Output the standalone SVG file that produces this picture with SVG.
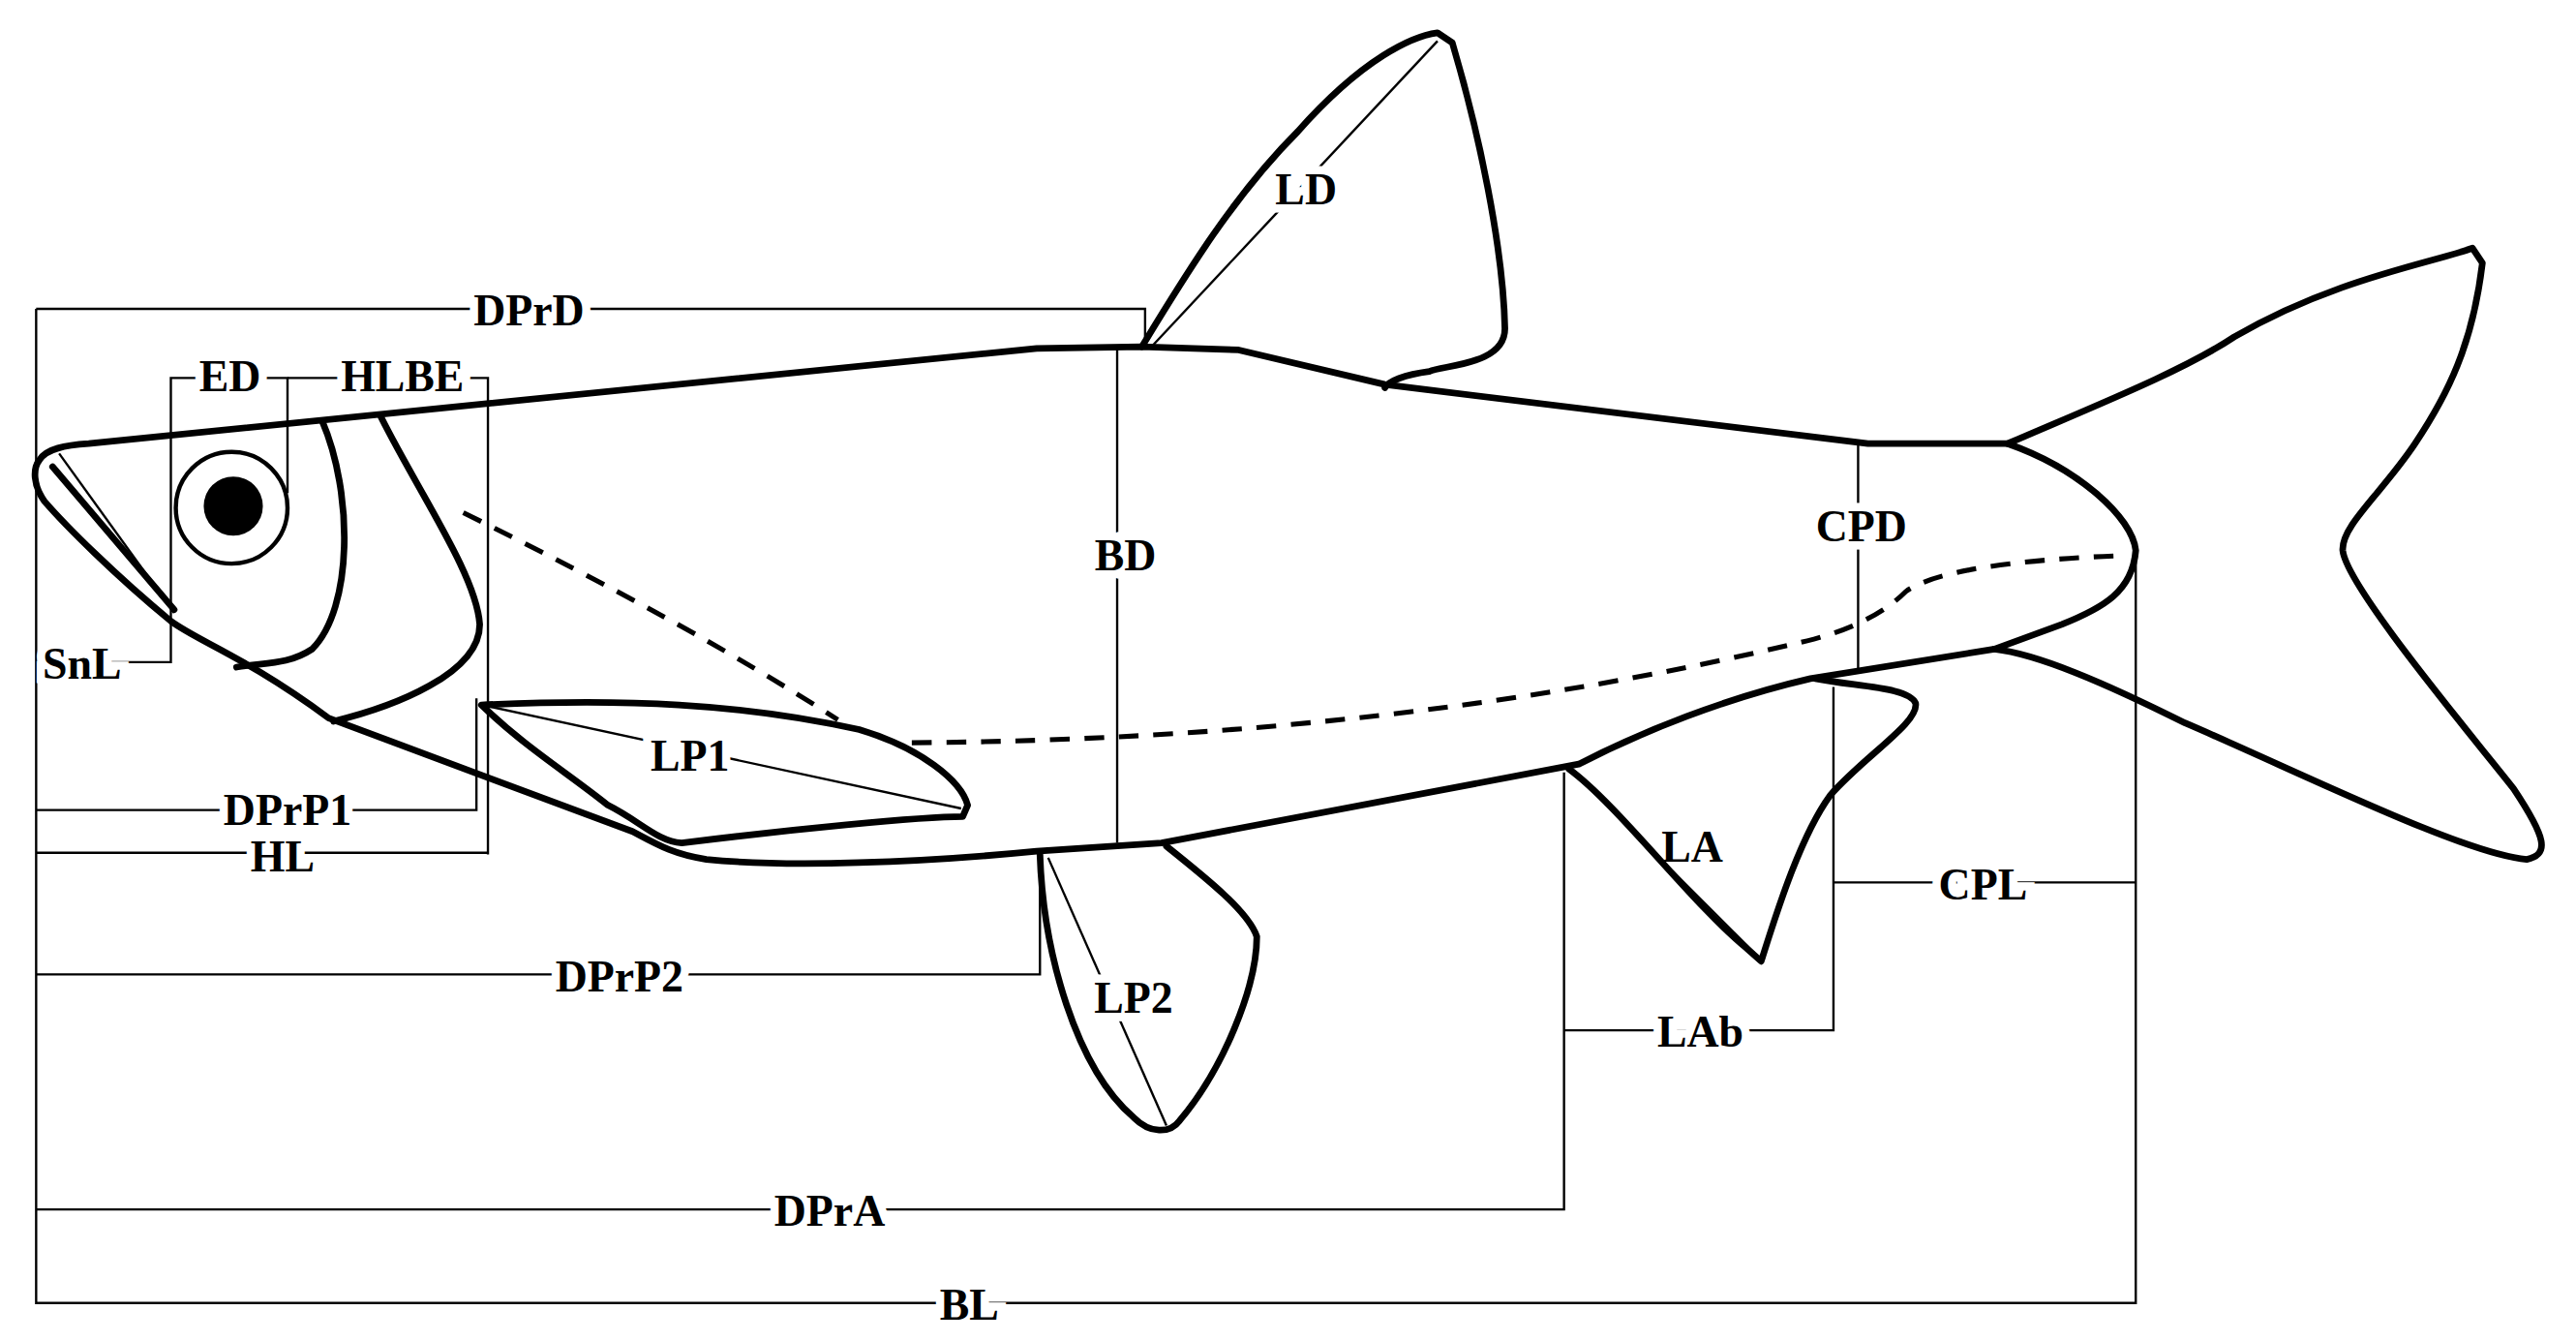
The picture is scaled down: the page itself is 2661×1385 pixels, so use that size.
<svg xmlns="http://www.w3.org/2000/svg" width="2661" height="1385" viewBox="0 0 2661 1385">
<style>
.f{fill:none;stroke:#000;stroke-width:4;stroke-linejoin:round;stroke-linecap:round}
.d{fill:none;stroke:#000;stroke-width:1.4}
.dash{fill:none;stroke:#000;stroke-width:3;stroke-dasharray:12 9}
text{font-family:"Liberation Serif","Times New Roman",serif;font-weight:bold;font-size:27px;text-anchor:middle;fill:#000;stroke:#fff;stroke-width:10;paint-order:stroke;dominant-baseline:central}
</style>
<rect width="2661" height="1385" fill="#fff"/>
<g transform="scale(1.6971)">
<g id="connectors">
<path class="d" d="M22,188 V793 H1300 V333"/>
<path class="d" d="M22,188 H697 V212"/>
<path class="d" d="M22,403 H104 V230 H175 V300"/>
<path class="d" d="M175,230 H297 V520"/>
<path class="d" d="M22,493 H290 V425"/>
<path class="d" d="M22,519 H297"/>
<path class="d" d="M22,593 H633 V520"/>
<path class="d" d="M22,736 H952 V470"/>
<path class="d" d="M952,627 H1116 V418"/>
<path class="d" d="M1116,537 H1300"/>
<path class="d" d="M680,212 V513"/>
<path class="d" d="M1131,270 V410"/>
<path class="d" d="M700,212 L875,25"/>
<path class="d" d="M298,430 L585,492"/>
<path class="d" d="M638,522 L710,685"/>
<path class="d" d="M960,472 L1068,580"/>
</g>
<g id="labels">
<text x="322" y="189">DPrD</text>
<text x="140" y="229">ED</text>
<text x="245" y="229">HLBE</text>
<text x="50" y="404">SnL</text>
<text x="175" y="493">DPrP1</text>
<text x="172" y="521">HL</text>
<text x="377" y="594">DPrP2</text>
<text x="505" y="737">DPrA</text>
<text x="590" y="794">BL</text>
<text x="685" y="338">BD</text>
<text x="1133" y="320">CPD</text>
<text x="1207" y="538">CPL</text>
<text x="1035" y="628">LAb</text>
<text x="795" y="115">LD</text>
<text x="420" y="460">LP1</text>
<text x="690" y="607">LP2</text>
<text x="1030" y="515">LA</text>
</g>
<g id="fish">
<path class="f" d="M54,270 L631,212 L695,211 L754,213 L843,234 L1137,270 L1222,270 C1265,285 1298,315 1300,335 C1298,360 1280,370 1255,380 L1214,395 L1102,413 C1050,425 1000,445 961,465 L707,513 L631,518 C560,525 480,528 430,523 C410,520 400,514 385,506 L200,437 C150,400 120,390 104,378 C70,350 40,320 27,305 C20,295 20,285 24,280 C28,273 40,271 54,270 Z"/>
<path class="f" d="M32,284 L106,371"/>
<path class="d" d="M36,276 L106,373"/>
<circle class="f" cx="141" cy="309" r="34" style="stroke-width:2.6"/>
<circle cx="142" cy="308" r="18" fill="#000"/>
<path class="f" d="M196,256 C215,300 215,370 190,395 C175,405 160,403 144,406"/>
<path class="f" d="M232,254 C255,300 290,350 292,380 C292,410 240,430 203,439"/>
<path class="dash" d="M282,312 Q420,380 510,438"/>
<path class="dash" d="M555,452 Q850,450 1100,390 Q1140,380 1160,360 Q1185,342 1295,338"/>
</g>
<g id="fins">
<path class="f" d="M293,429 C380,425 450,428 523,444 C560,455 585,475 589,490 L586,497 C560,497 480,505 415,513 C400,512 390,500 370,490 C345,470 320,455 293,429 Z"/>
<path class="f" d="M695,211 C720,170 750,120 790,80 C830,35 860,22 875,20 L884,26 C900,80 915,150 916,200 C916,222 880,222 870,226 C855,228 845,232 843,236"/>
<path class="f" d="M1222,270 C1280,245 1330,225 1360,205 C1420,170 1480,160 1505,151 L1511,160 C1505,210 1490,240 1470,270 C1450,300 1425,320 1426,335 C1428,355 1490,430 1530,480 C1550,510 1552,520 1538,523 C1500,520 1400,470 1330,440 C1280,415 1240,398 1214,395"/>
<path class="f" d="M633,520 C635,580 655,650 690,680 C700,690 712,690 718,682 C745,650 765,600 765,570 C760,555 735,535 710,515"/>
<path class="f" d="M955,468 C985,490 1030,550 1063,577 L1072,585 C1080,560 1095,510 1114,484 C1135,460 1168,440 1166,428 C1162,418 1130,418 1105,413"/>
</g>
</g>
</svg>
